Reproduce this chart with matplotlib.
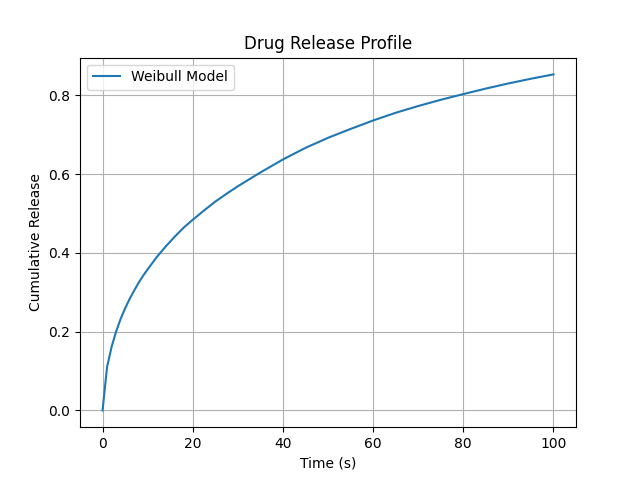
import matplotlib
matplotlib.use("Agg")
import matplotlib.pyplot as plt

# Values
time_s = [0, 1, 2, 3, 4, 5, 6, 7, 8, 9, 10, 12, 14, 16, 18, 20,
          22.5, 25, 27.5, 30, 35, 40, 45, 50, 55, 60, 65, 70, 75, 80, 85, 90, 95, 100]
release = [0.0, 0.110, 0.161, 0.200, 0.232, 0.259, 0.283, 0.304, 0.324, 0.342,
           0.358, 0.389, 0.416, 0.441, 0.464, 0.484,
           0.5075, 0.530, 0.550, 0.569, 0.604, 0.637, 0.6665, 0.692, 0.7145,
           0.736, 0.7555, 0.7727, 0.7885, 0.803, 0.817, 0.830, 0.842, 0.853]

fig, ax = plt.subplots(figsize=(6.4, 4.8), dpi=100)
ax.plot(time_s, release, label="Weibull Model")
ax.set_title("Drug Release Profile")
ax.set_xlabel("Time (s)")
ax.set_ylabel("Cumulative Release")
ax.grid(True)
ax.legend(loc="upper left")
fig.savefig("out.png", dpi=100)
